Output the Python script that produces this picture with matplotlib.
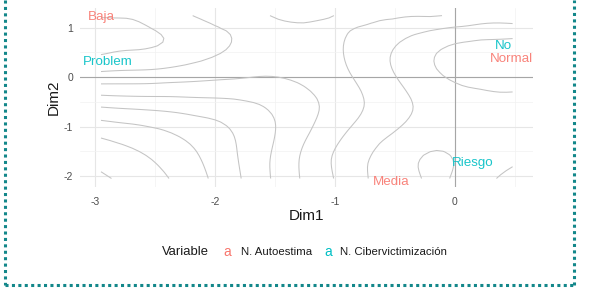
import numpy as np
import matplotlib
matplotlib.use('Agg')
import matplotlib.pyplot as plt
from matplotlib.lines import Line2D

plt.rcParams['font.family'] = ['Liberation Sans', 'DejaVu Sans']
plt.rcParams['axes.unicode_minus'] = False

# category labels (MCA coordinates)
cat_names = ['Baja', 'Media', 'Normal', 'Problem', 'Riesgo', 'No']
cat_x = [-2.95, -0.53, 0.47, -2.89, 0.15, 0.40]
cat_y = [1.21, -2.12, 0.36, 0.30, -1.74, 0.63]
cat_var = ['N. Autoestima', 'N. Autoestima', 'N. Autoestima',
           'N. Cibervictimización', 'N. Cibervictimización', 'N. Cibervictimización']
var_colors = {'N. Autoestima': '#F8766D', 'N. Cibervictimización': '#00BFC4'}

# density contours: level -> traced points
lev1 = ([-2.93, -2.75, -2.58, -2.47, -2.39], [-1.23, -1.37, -1.58, -1.82, -2.04])
lev2 = ([-2.95, -2.67, -2.45, -2.2, -2.12, -2.06], [-0.87, -0.93, -1.03, -1.37, -1.68, -2.04])
lev3 = ([-2.95, -2.6, -2.31, -1.98, -1.87, -1.83, -1.78], [-0.61, -0.66, -0.71, -0.83, -1.03, -1.54, -2.04])
lev4 = ([-2.95, -2.4, -1.85, -1.62, -1.48, -1.5, -1.56, -1.53], [-0.36, -0.39, -0.42, -0.51, -0.91, -1.27, -1.72, -2.04])
lev5 = ([-2.95, -2.4, -1.85, -1.53, -1.3, -1.14, -1.08, -1.2, -1.31, -1.29],
        [-0.14, -0.10, -0.06, 0.0, -0.12, -0.42, -0.63, -1.13, -1.64, -2.04])
lev6_b = ([-2.96, -2.54, -2.12, -1.92, -1.83, -1.88, -1.98, -2.12, -2.25],
          [0.10, 0.14, 0.30, 0.50, 0.69, 0.86, 1.01, 1.15, 1.24])
lev6_c = ([-1.75, -1.5, -1.25, -0.92, -0.6, -0.29, 0.07], [1.21, 1.08, 1.03, 1.15, 1.21, 1.23, 1.24])
lev6_s = ([0.07, -0.2, -0.52, -0.7, -0.85, -0.95, -0.89, -0.78, -0.71, -0.8, -0.92, -1.06, -1.0],
          [1.23, 1.16, 1.08, 0.98, 0.84, 0.59, 0.10, -0.25, -0.55, -0.85, -1.17, -1.64, -1.98])
lev7_a = ([-2.96, -2.54, -2.40, -2.36, -2.42, -2.54, -2.82, -2.95], [0.44, 0.55, 0.65, 0.75, 0.88, 0.99, 1.11, 1.13])
lev7_s = ([0.47, 0.08, -0.2, -0.37, -0.5, -0.56, -0.5, -0.42, -0.36, -0.29, -0.40, -0.64, -0.79, -0.72],
          [1.05, 1.03, 0.98, 0.91, 0.71, 0.38, 0.05, -0.2, -0.42, -0.63, -0.93, -1.23, -1.72, -2.0])
lev8_u = ([0.47, 0.2, 0.0, -0.14, -0.2, -0.14, 0.0, 0.2, 0.47], [0.81, 0.80, 0.74, 0.58, 0.34, 0.10, -0.07, -0.16, -0.20])
lev8_e = ([-0.37, 0.03, -0.17, -0.17, -0.31, -0.03, -0.31, -0.03], [-1.70, -1.70, -1.48, -1.92, -1.55, -1.55, -1.86, -1.86])
lev8_f = ([0.33, 0.40, 0.47], [-2.05, -1.97, -1.88])
traces = [(1, lev1), (2, lev2), (3, lev3), (4, lev4), (5, lev5), (6, lev6_b), (6, lev6_c), (6, lev6_s),
          (7, lev7_a), (7, lev7_s), (8, lev8_u), (8, lev8_e), (8, lev8_f)]

# values between the contour lines
mid_x = [-2.95, -2.8, -2.95, -2.65, -2.2, -2.95, -2.5, -2.05,
         -1.5, -1.2, -1.1, -1.0, -1.18, -1.15, -2.4, -1.75, -1.95, -1.6, -1.35,
         -1.25,
         -0.75, -0.6, -0.85, -0.86, -0.35, -0.6, 0.3,
         0.0, 0.47, -0.35, -0.1, 0.25, 0.47, 0.1, -0.45, -0.45, 0.1, 0.47, -0.2, 0.48,
         0.47, 0.25, -0.17, 0.47]
mid_y = [-2.05, -1.75, 0.77, 0.78, 0.62, 0.27, 1.18, 0.75,
         0.5, 0.75, 0.0, -0.9, -1.5, -2.02, 0.02, 0.25, 1.2, 0.95, 0.3,
         1.2,
         0.35, -0.5, -1.6, -2.02, 1.0, -0.9, 1.2,
         0.88, 0.93, 0.4, -0.5, -0.5, -0.55, -1.2, -1.5, -2.0, -2.0, -1.45, -1.1, -1.0,
         0.3, 0.3, -1.70, -2.05]
mid_v = [-0.15, 0.5, 7.5, 7.3, 6.5, 6.5, 6.6, 6.35,
         5.5, 5.55, 5.5, 5.6, 5.5, 5.5, 5.5, 5.6, 5.7, 5.6, 5.5,
         6.12,
         6.5, 6.5, 6.5, 6.5, 6.5, 6.5, 6.6,
         7.5, 7.5, 7.5, 7.6, 7.8, 7.85, 7.7, 7.4, 7.5, 7.8, 7.85, 7.6, 8.02,
         8.7, 8.5, 8.25, 8.2]

# smooth surface through the traced values (thin plate penalty on a grid)
pts_x = np.concatenate([np.array(t[1][0], float) for t in traces] + [np.array(mid_x, float)])
pts_y = np.concatenate([np.array(t[1][1], float) for t in traces] + [np.array(mid_y, float)])
pts_v = np.concatenate([np.full(len(t[1][0]), float(t[0])) for t in traces] + [np.array(mid_v, float)])

nx, ny = 66, 44
gx = np.linspace(-2.95, 0.48, nx)
gy = np.linspace(-2.05, 1.24, ny)
hx, hy = gx[1] - gx[0], gy[1] - gy[0]
N = nx * ny
M = np.zeros((N, N))
rhs = np.zeros(N)

fi = np.clip((pts_x - gx[0]) / hx, 0, nx - 1 - 1e-9)
fj = np.clip((pts_y - gy[0]) / hy, 0, ny - 1 - 1e-9)
i0 = np.floor(fi).astype(int)
j0 = np.floor(fj).astype(int)
tx, ty = fi - i0, fj - j0
k = j0 * nx + i0
idx = np.stack([k, k + 1, k + nx, k + nx + 1], 1)
w = np.stack([(1 - tx) * (1 - ty), tx * (1 - ty), (1 - tx) * ty, tx * ty], 1)
np.add.at(M, (idx[:, :, None], idx[:, None, :]), w[:, :, None] * w[:, None, :])
np.add.at(rhs, idx, w * pts_v[:, None])

lam = 30.0
hxp, hyp = hx * 120, hy * 49.5
area = hxp * hyp
ii, jj = np.meshgrid(np.arange(nx), np.arange(ny))
kk = jj * nx + ii


def add_stencil(sel, offsets, coefs, fac):
    base = kk[sel].ravel()
    sidx = np.stack([base + o for o in offsets], 1)
    c = np.tile(np.array(coefs, float), (len(base), 1))
    np.add.at(M, (sidx[:, :, None], sidx[:, None, :]), fac * c[:, :, None] * c[:, None, :])


add_stencil((ii >= 1) & (ii <= nx - 2), [-1, 0, 1], np.array([1, -2, 1]) / hxp ** 2, lam * area)
add_stencil((jj >= 1) & (jj <= ny - 2), [-nx, 0, nx], np.array([1, -2, 1]) / hyp ** 2, lam * area)
add_stencil((ii <= nx - 2) & (jj <= ny - 2), [0, 1, nx, nx + 1], np.array([1, -1, -1, 1]) / (hxp * hyp), 2 * lam * area)

Z = np.linalg.solve(M, rhs).reshape(ny, nx)

# figure
fig = plt.figure(figsize=(5.89, 2.93), dpi=100)
ax = fig.add_axes([80 / 589, 1 - 187 / 293, (533 - 80) / 589, (187 - 8) / 293])
ax.set_xlim(-3.125, 0.65)
ax.set_ylim(-2.222, 1.394)

ax.set_xticks([-3, -2, -1, 0])
ax.set_yticks([-2, -1, 0, 1])
ax.set_xticks([-2.5, -1.5, -0.5, 0.5], minor=True)
ax.set_yticks([-1.5, -0.5, 0.5], minor=True)
ax.grid(True, which='major', color='#e6e6e6', lw=0.8)
ax.grid(True, which='minor', color='#f2f2f2', lw=0.5)
ax.set_axisbelow(True)
for s in ax.spines.values():
    s.set_visible(False)
ax.tick_params(which='both', length=0, labelsize=7.5, labelcolor='#4d4d4d')
ax.tick_params(axis='x', pad=7)
ax.tick_params(axis='y', pad=5)

ax.axhline(0, color='#a6a6a6', lw=0.8, zorder=1.5)
ax.axvline(0, color='#a6a6a6', lw=0.8, zorder=1.5)

ax.contour(gx, gy, Z, levels=[0, 1, 2, 3, 4, 5, 6, 7, 8], colors='#c4c4c4', linewidths=0.75, zorder=2)

for name, x, y, v in zip(cat_names, cat_x, cat_y, cat_var):
    ax.text(x, y, name, color=var_colors[v], fontsize=9.6, ha='center', va='center', zorder=3, alpha=0.9)

fig.text(306 / 589, 1 - 216 / 293, 'Dim1', fontsize=11, ha='center', va='center', color='#1a1a1a')
fig.text(54 / 589, 1 - 97 / 293, 'Dim2', fontsize=11, ha='center', va='center', rotation=90, color='#1a1a1a')

# legend
ly = 1 - 252 / 293
fig.text(162 / 589, ly, 'Variable', fontsize=9.4, ha='left', va='center', color='#1a1a1a')
fig.text(227 / 589, ly, 'a', fontsize=10, ha='center', va='center', color=var_colors['N. Autoestima'])
fig.text(241 / 589, ly, 'N. Autoestima', fontsize=8.2, ha='left', va='center', color='#1a1a1a')
fig.text(328 / 589, ly, 'a', fontsize=10, ha='center', va='center', color=var_colors['N. Cibervictimización'])
fig.text(340 / 589, ly, 'N. Cibervictimización', fontsize=8.2, ha='left', va='center', color='#1a1a1a')

# dotted frame
frame = dict(color='#13878a', lw=2.2, linestyle=(0, (1, 1.1)), transform=fig.transFigure)
fig.add_artist(Line2D([5 / 589, 5 / 589], [1.0, 1 - 285 / 293], **frame))
fig.add_artist(Line2D([5 / 589, 574 / 589], [1 - 285 / 293, 1 - 285 / 293], **frame))
fig.add_artist(Line2D([574 / 589, 574 / 589], [1 - 285 / 293, 1.0], **frame))

fig.savefig('out.png', dpi=100, facecolor='white')
